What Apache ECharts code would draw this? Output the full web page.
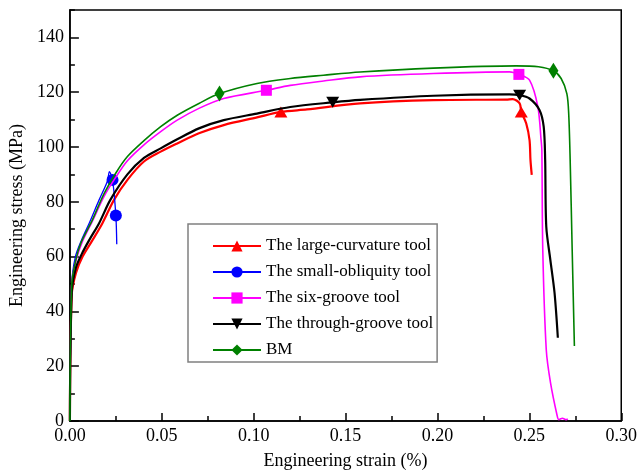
<!DOCTYPE html>
<html>
<head>
<meta charset="utf-8">
<script src="https://cdn.jsdelivr.net/npm/echarts@6/dist/echarts.min.js"></script>
<style>
  html, body { margin: 0; padding: 0; background: #fff; }
  #main { width: 640px; height: 475px; }
</style>
</head>
<body>
<div id="main"></div>
<script>
var seriesNames = ['The large-curvature tool', 'The small-obliquity tool', 'The six-groove tool', 'The through-groove tool', 'BM'];
var seriesColors = ['#ff0000', '#0000ff', '#ff00ff', '#000000', '#008000'];

// [strain, stress]
var largeCurvature = [[0,0],[0.001,46],[0.0033,54],[0.0069,60],[0.0123,66],[0.0177,72.2],[0.024,80.7],[0.0313,88],[0.0403,94.7],[0.0494,98.3],[0.0584,101.3],[0.0702,105],[0.0837,108],[0.1018,110.8],[0.129,113.7],[0.1579,115.9],[0.1977,117.1],[0.2374,117.3],[0.2409,117.5],[0.2447,115.9],[0.2483,108.6],[0.2501,102.5],[0.2506,95.3],[0.2513,89.8]];
var largeCurvatureMarks = [[0.1148,112.8],[0.2456,112.8]];

var smallObliquity = [[0,0],[0.001,50],[0.003,60],[0.0063,66],[0.0105,72.2],[0.0159,80.7],[0.0204,87.5],[0.0215,91],[0.0255,64.5]];
var smallObliquityMarks = [[0.0232,88],[0.025,75]];

var sixGroove = [[0,0],[0.001,50],[0.0033,58.5],[0.0065,65],[0.0123,73],[0.0186,82],[0.025,89],[0.0313,95],[0.0403,100.8],[0.0494,105.6],[0.0584,109.8],[0.0702,114.1],[0.0837,117.7],[0.1199,122.5],[0.138,124.1],[0.1579,125.6],[0.1977,126.8],[0.2392,127.4],[0.2501,124.4],[0.2546,114.7],[0.2564,102.5],[0.2568,98.9],[0.2573,62.5],[0.2592,26],[0.2615,14],[0.2651,2],[0.2660,0.5],[0.2680,1],[0.2700,0.5],[0.2709,0.8]];
var sixGrooveMarks = [[0.1069,120.7],[0.2443,126.5]];

var throughGroove = [[0,0],[0.001,47],[0.0033,56],[0.0065,61],[0.0105,66],[0.0159,72.2],[0.022,80.7],[0.0313,90],[0.0403,96],[0.0494,99.5],[0.0584,102.8],[0.0702,106.8],[0.0837,109.8],[0.1018,112.2],[0.1199,114.6],[0.1579,117.2],[0.1977,118.7],[0.2392,119.2],[0.2501,117.7],[0.2555,113.5],[0.2578,107.4],[0.2586,95.3],[0.2592,71],[0.2614,58.9],[0.2637,46.8],[0.2655,30.4]];
var throughGrooveMarks = [[0.143,116.3],[0.2447,118.9]];

var bm = [[0,0],[0.001,50],[0.0033,59],[0.006,65],[0.0123,73.5],[0.0186,83],[0.025,90.5],[0.0313,96.5],[0.0403,102.3],[0.0494,107.4],[0.0584,111.6],[0.0702,115.9],[0.1018,123.2],[0.1199,125],[0.138,126.2],[0.1579,127.4],[0.1977,128.8],[0.2428,129.6],[0.255,129.3],[0.2673,125],[0.2704,119.5],[0.2714,112.3],[0.2722,95.3],[0.2733,62.5],[0.2745,27.4]];
var bmMarks = [[0.0814,119.5],[0.2631,127.8]];

var xTicks = [0, 0.30, 0.05];
var yTicks = [0, 150, 20];

var curves = [largeCurvature, smallObliquity, sixGroove, throughGroove, bm];
var marks = [largeCurvatureMarks, smallObliquityMarks, sixGrooveMarks, throughGrooveMarks, bmMarks];
var symbols = ['triangle', 'circle', 'rect', 'triangle', 'diamond'];
var symbolSizes = [[13, 11], 12, 11, [13, 11], [10, 16]];
var symbolRotates = [0, 0, 0, 180, 0];
var lineWidths = [2.2, 1.3, 1.6, 2.2, 1.6];

var serif = 'Liberation Serif';

// merge marker points into the curve, sorted by strain
function buildData(curve, mk, sym, size, rot) {
    var all = curve.map(function (p) { return { value: p, symbol: 'none' }; });
    mk.forEach(function (p) {
        all.push({ value: p, symbol: sym, symbolSize: size, symbolRotate: rot });
    });
    all.sort(function (a, b) { return a.value[0] - b.value[0]; });
    return all;
}

var series = seriesNames.map(function (name, i) {
    return {
        name: name,
        type: 'line',
        data: buildData(curves[i], marks[i], symbols[i], symbolSizes[i], symbolRotates[i]),
        symbol: symbols[i],
        symbolSize: symbolSizes[i],
        symbolRotate: symbolRotates[i],
        showSymbol: true,
        smooth: 0.3,
        color: seriesColors[i],
        lineStyle: { width: lineWidths[i], color: seriesColors[i] },
        itemStyle: { color: seriesColors[i] },
        animation: false,
        z: 2 + i
    };
});

var myChart = echarts.init(document.getElementById('main'));

var option = {
    animation: false,
    backgroundColor: '#fff',
    grid: {
        left: 69, right: 18, top: 10, bottom: 53,
        show: true,
        borderColor: '#000',
        borderWidth: 1.5
    },
    legend: {
        orient: 'vertical',
        left: 188,
        top: 224,
        padding: [12, 4, 2, 24],
        itemWidth: 48,
        itemHeight: 14,
        itemGap: 6,
        borderColor: '#808080',
        borderWidth: 1.5,
        backgroundColor: '#fff',
        textStyle: { fontFamily: serif, fontSize: 17, color: '#000', lineHeight: 20 },
        data: seriesNames
    },
    xAxis: {
        type: 'value',
        min: xTicks[0],
        max: xTicks[1],
        interval: xTicks[2],
        name: 'Engineering strain (%)',
        nameLocation: 'middle',
        nameGap: 31,
        nameTextStyle: { fontFamily: serif, fontSize: 18, color: '#000' },
        axisLine: { lineStyle: { color: '#000', width: 1.5 } },
        axisTick: { inside: true, length: 8, lineStyle: { color: '#000', width: 1.5 } },
        minorTick: { show: true, splitNumber: 2, length: 5, lineStyle: { color: '#000', width: 1.5 } },
        splitLine: { show: false },
        axisLabel: {
            fontFamily: serif, fontSize: 18, color: '#000', margin: 6,
            formatter: function (v) { return v.toFixed(2); }
        }
    },
    yAxis: [{
        type: 'value',
        min: yTicks[0],
        max: yTicks[1],
        interval: yTicks[2],
        name: 'Engineering stress (MPa)',
        nameLocation: 'middle',
        nameGap: 40,
        nameTextStyle: { fontFamily: serif, fontSize: 18, color: '#000' },
        axisLine: { lineStyle: { color: '#000', width: 1.5 } },
        axisTick: { inside: true, length: 9, lineStyle: { color: '#000', width: 1.5 } },
        splitLine: { show: false },
        axisLabel: {
            fontFamily: serif, fontSize: 18, color: '#000', margin: 6,
            showMaxLabel: false
        }
    }, {
        type: 'value',
        position: 'left',
        min: yTicks[0],
        max: yTicks[1],
        interval: yTicks[2] / 2,
        axisLine: { show: false },
        axisTick: { inside: true, length: 5, lineStyle: { color: '#000', width: 1.5 } },
        splitLine: { show: false },
        axisLabel: { show: false }
    }],
    series: series
};

myChart.setOption(option);
</script>
</body>
</html>
